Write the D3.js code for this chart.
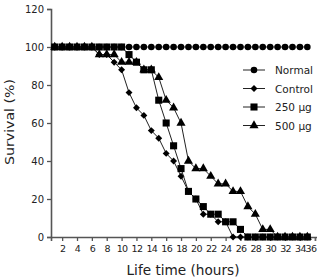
<!DOCTYPE html>
<html><head><meta charset="utf-8">
<script src="https://cdn.jsdelivr.net/npm/d3@7"></script>
<style>body{margin:0;background:#fff}svg{display:block}</style>
</head><body><div id="c"></div>
<script>
const hours = d3.range(1, 36);
const normal = hours.map(() => 100);
const control = [100,100,100,100,100,100,96,96,92,88,76,68,64,56,52,44,40,32,24,20,12,12,8,8,0,0,0,0,0,0,0,0,0,0,0];
const ug250  = [100,100,100,100,100,100,100,100,100,100,96,92,88,88,72,60,48,36,24,20,16,12,12,8,8,4,0,0,0,0,0,0,0,0,0];
const ug500  = [100,100,100,100,100,100,96,96,96,92,92,92,88,88,84,72,68,60,40,36,36,32,28,28,24,24,16,12,4,4,0,0,0,0,0];
const seriesNames = ["Normal","Control","250 µg","500 µg"];
const yTicks = [0,20,40,60,80,100,120];
const xTicks = d3.range(2, 37, 2);

const W = 317, H = 280;
const svg = d3.select("#c").append("svg").attr("width", W).attr("height", H);
const x = d3.scaleLinear().domain([0.5, 36.3]).range([51, 317]);
const y = d3.scaleLinear().domain([0, 120]).range([237, 9]);
const axisColor = "#555";
const lineColor = "#222";
const font = "DejaVu Sans, Verdana, sans-serif";

// axes
const yAx = svg.append("g").attr("transform", "translate(51,0)")
  .call(d3.axisLeft(y).tickValues(yTicks).tickSize(4).tickPadding(3));
const xAx = svg.append("g").attr("transform", "translate(0,237)")
  .call(d3.axisBottom(x).tickValues(xTicks).tickSize(4).tickPadding(4));
[yAx, xAx].forEach(g => {
  g.select(".domain").attr("stroke", axisColor).attr("stroke-width", 1.6);
  g.selectAll(".tick line").attr("stroke", axisColor).attr("stroke-width", 1.3);
  g.selectAll("text").attr("fill", "#222").attr("font-family", font);
});
yAx.selectAll("text").attr("font-size", 10);
xAx.selectAll("text").attr("font-size", 9.5).attr("letter-spacing", -0.7);
// last tick label sits at the right edge: keep it inside the picture
xAx.selectAll(".tick text").filter(d => d === 36).attr("text-anchor", "end").attr("dx", 1);

// titles
svg.append("text").attr("transform", "translate(14,122) rotate(-90)")
  .attr("text-anchor", "middle").attr("font-family", font)
  .attr("font-size", 13).attr("fill", "#222").attr("textLength", 86).attr("lengthAdjust", "spacingAndGlyphs")
  .text("Survival (%)");
svg.append("text").attr("x", 183).attr("y", 275)
  .attr("text-anchor", "middle").attr("font-family", font)
  .attr("font-size", 14).attr("fill", "#222").attr("textLength", 113).attr("lengthAdjust", "spacingAndGlyphs")
  .text("Life time (hours)");

// symbols
const symbols = {
  "Normal": {type: d3.symbolCircle, size: 34, rot: 0},
  "Control": {type: d3.symbolSquare, size: 24, rot: 45},
  "250 µg": {type: d3.symbolSquare, size: 50, rot: 0},
  "500 µg": {type: d3.symbolTriangle, size: 36, rot: 0}
};
const dataMap = {"Normal": normal, "Control": control, "250 µg": ug250, "500 µg": ug500};
const drawOrder = ["Normal","Control","500 µg","250 µg"];
const line = d3.line().x((d,i) => x(hours[i])).y(d => y(d));

drawOrder.forEach(name => {
  const vals = dataMap[name];
  const g = svg.append("g");
  g.append("path").datum(vals).attr("d", line).attr("fill", "none")
    .attr("stroke", lineColor).attr("stroke-width", 1);
  const s = symbols[name];
  g.selectAll("path.m").data(vals).join("path").attr("class", "m")
    .attr("d", d3.symbol().type(s.type).size(s.size)())
    .attr("transform", (d,i) => `translate(${x(hours[i])},${y(d)}) rotate(${s.rot})`)
    .attr("fill", "#000");
});

// legend
const leg = svg.append("g");
seriesNames.forEach((name, i) => {
  const ly = 70 + i * 18.5;
  const s = symbols[name];
  leg.append("line").attr("x1", 243).attr("x2", 265).attr("y1", ly).attr("y2", ly)
    .attr("stroke", lineColor).attr("stroke-width", 1);
  leg.append("path").attr("d", d3.symbol().type(s.type).size(s.size)())
    .attr("transform", `translate(254,${ly}) rotate(${s.rot})`).attr("fill", "#000");
  leg.append("text").attr("x", 275).attr("y", ly + 4)
    .attr("font-family", font).attr("font-size", 10.5)
    .attr("fill", "#222").text(name);
});
</script></body></html>
